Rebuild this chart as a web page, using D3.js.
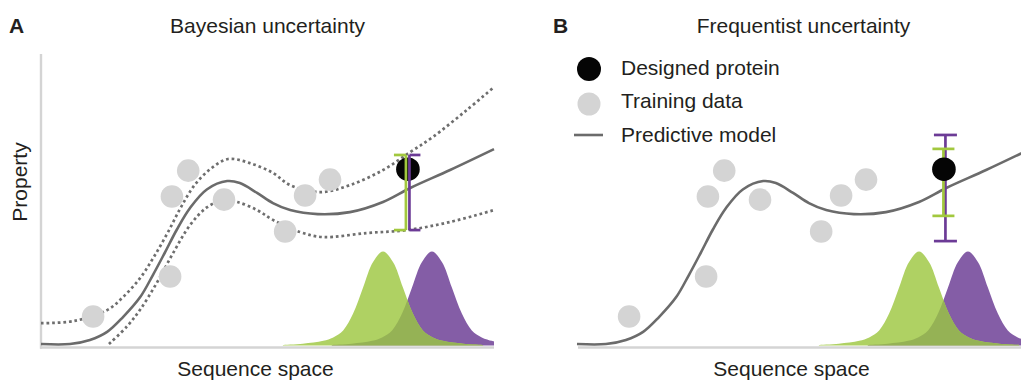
<!DOCTYPE html>
<html><head><meta charset="utf-8">
<script src="https://cdn.jsdelivr.net/npm/d3@7"></script>
<style>
body{margin:0;background:#fff;}
svg{display:block;}
text{font-family:"Liberation Sans",Arial,Helvetica,sans-serif;fill:#231f20;}
</style>
</head><body>
<svg id="c" width="1021" height="381"></svg>
<script>
// ---- data (sequence space x, property y; both 0..10) ----
const panelTitles = ["Bayesian uncertainty", "Frequentist uncertainty"];
const panelLetters = ["A", "B"];
const xLabel = "Sequence space";
const yLabel = "Property";
const legendLabels = ["Designed protein", "Training data", "Predictive model"];

const trainX = [1.15, 2.85, 2.89, 3.25, 4.04, 5.39, 5.83, 6.38];
const trainY = [1.00, 2.38, 5.14, 6.03, 5.03, 3.93, 5.17, 5.72];
const designedX = 8.10;
const designedY = 6.08;

const modelX = [0, 0.64, 1.08, 1.46, 1.81, 2.19, 2.47, 2.74, 3.00, 3.29, 3.66, 4.11, 4.39, 4.77, 5.12, 5.50, 6.11, 6.82, 7.55, 8.15, 9.03, 10.0];
const modelY = [0.05, 0.05, 0.19, 0.47, 0.98, 1.67, 2.43, 3.22, 4.00, 4.74, 5.38, 5.67, 5.60, 5.26, 4.91, 4.67, 4.53, 4.60, 4.95, 5.43, 6.05, 6.77];

const upperX = [0, 0.71, 1.46, 1.81, 2.19, 2.49, 2.80, 3.10, 3.40, 3.75, 4.13, 4.61, 5.12, 5.50, 6.16, 6.82, 7.55, 8.15, 8.65, 9.40, 10.0];
const upperY = [0.77, 0.84, 1.22, 1.67, 2.33, 3.05, 3.90, 4.80, 5.55, 6.10, 6.43, 6.29, 5.95, 5.53, 5.29, 5.53, 6.05, 6.67, 7.19, 8.12, 8.91];

const lowerX = [1.50, 1.90, 2.19, 2.56, 2.91, 3.29, 3.66, 4.02, 4.33, 4.77, 5.12, 5.72, 6.22, 7.20, 8.08, 9.03, 10.0];
const lowerY = [0.05, 0.66, 1.24, 2.17, 3.17, 4.15, 4.76, 5.02, 4.95, 4.67, 4.33, 3.91, 3.74, 3.88, 3.98, 4.26, 4.67];

const greenDistX = [5.34, 5.78, 6.23, 6.45, 6.67, 6.89, 7.11, 7.33, 7.55, 7.77, 7.99, 8.21, 8.43, 8.65, 8.87, 9.32, 9.76];
const greenDistY = [0.02, 0.06, 0.16, 0.28, 0.52, 1.10, 2.00, 2.88, 3.24, 2.88, 2.00, 1.10, 0.52, 0.28, 0.16, 0.06, 0.02];
const purpleDistX = [6.42, 6.86, 7.31, 7.53, 7.75, 7.97, 8.19, 8.41, 8.63, 8.85, 9.07, 9.29, 9.51, 9.73, 9.95, 10.0];
const purpleDistY = [0.02, 0.06, 0.16, 0.28, 0.52, 1.10, 2.00, 2.88, 3.24, 2.88, 2.00, 1.10, 0.52, 0.28, 0.16, 0.14];

// error bars [low, high]
const bayesGreenBar = [3.98, 6.57];
const bayesPurpleBar = [3.98, 6.57];
const freqGreenBar = [4.47, 6.78];
const freqPurpleBar = [3.60, 7.26];

// ---- drawing ----
const C = {
  axis: "#d4d4d4", model: "#6b6b6b", train: "#d4d4d4", designed: "#050505",
  green: "#afd163", purple: "#845da6", overlap: "#95b255",
  barGreen: "#a2c83e", barPurple: "#6c3b96"
};
const FS = 21;
const svg = d3.select("#c");
const x = d3.scaleLinear().domain([0, 10]).range([0, 453]);
const y = d3.scaleLinear().domain([0, 10]).range([345.5, 55.5]);
const zip = (a, b) => a.map((v, i) => [v, b[i]]);

const lineGen = d3.line().x(d => x(d[0])).y(d => y(d[1])).curve(d3.curveCatmullRom.alpha(0.5));
const areaGen = d3.area().x(d => x(d[0])).y0(y(0)).y1(d => y(d[1])).curve(d3.curveCatmullRom.alpha(0.5));

const panels = [
  { left: 41, bayes: true, bars: [
      { v: bayesGreenBar, color: C.barGreen, dx: -2, c0: -12, c1: 0 },
      { v: bayesPurpleBar, color: C.barPurple, dx: 1.5, c0: 0, c1: 11 }], barsOnTop: true },
  { left: 577, bayes: false, bars: [
      { v: freqPurpleBar, color: C.barPurple, dx: 1.5, c0: -11.5, c1: 11.5 },
      { v: freqGreenBar, color: C.barGreen, dx: -0.5, c0: -11, c1: 11 }], barsOnTop: false }
];

const defs = svg.append("defs");

panels.forEach((p, pi) => {
  const g = svg.append("g").attr("transform", `translate(${p.left},0)`);

  // axes
  if (pi === 0) {
    g.append("line").attr("x1", 0).attr("x2", 0).attr("y1", 54).attr("y2", 348.7)
      .attr("stroke", C.axis).attr("stroke-width", 2.4);
  }
  g.append("line").attr("x1", pi === 0 ? -1 : 1).attr("x2", x(10) + (pi === 0 ? 0 : 20))
    .attr("y1", 347.5).attr("y2", 347.5).attr("stroke", C.axis).attr("stroke-width", 2.4);

  // distributions
  const purplePts = zip(purpleDistX, purpleDistY);
  const greenPts = zip(greenDistX, greenDistY);
  const cid = "clipP" + pi;
  defs.append("clipPath").attr("id", cid)
    .append("path").attr("d", areaGen(purplePts));
  g.append("path").attr("d", areaGen(purplePts)).attr("fill", C.purple);
  g.append("path").attr("d", areaGen(greenPts)).attr("fill", C.green);
  g.append("g").attr("clip-path", `url(#${cid})`)
    .append("path").attr("d", areaGen(greenPts)).attr("fill", C.overlap);

  // bands
  if (p.bayes) {
    [zip(upperX, upperY), zip(lowerX, lowerY)].forEach(pts => {
      g.append("path").attr("d", lineGen(pts)).attr("fill", "none")
        .attr("stroke", "#6e6e6e").attr("stroke-width", 2.7)
        .attr("stroke-dasharray", "2.7 2.9");
    });
  }
  // model
  g.append("path").attr("d", lineGen(zip(modelX, modelY))).attr("fill", "none")
    .attr("stroke", C.model).attr("stroke-width", 2.6);

  // training points
  g.selectAll("circle.t").data(zip(trainX, trainY)).enter().append("circle")
    .attr("cx", d => x(d[0])).attr("cy", d => y(d[1])).attr("r", 11.3).attr("fill", C.train);

  const drawBars = () => {
    p.bars.forEach(b => {
      const bx = x(designedX) + b.dx;
      const gb = g.append("g").attr("stroke", b.color).attr("stroke-width", 2.7).attr("fill", "none");
      gb.append("line").attr("x1", bx).attr("x2", bx).attr("y1", y(b.v[0])).attr("y2", y(b.v[1]));
      b.v.forEach(v => gb.append("line").attr("x1", bx + b.c0).attr("x2", bx + b.c1)
        .attr("y1", y(v)).attr("y2", y(v)));
    });
  };
  const drawDesigned = () => g.append("circle").attr("cx", x(designedX)).attr("cy", y(designedY))
    .attr("r", 11.8).attr("fill", C.designed);
  if (p.barsOnTop) { drawDesigned(); drawBars(); } else { drawBars(); drawDesigned(); }

  // titles
  g.append("text").attr("x", x(5)).attr("y", 33).attr("text-anchor", "middle")
    .attr("font-size", FS).text(panelTitles[pi]);
  g.append("text").attr("x", pi === 0 ? -32 : -24).attr("y", 33).attr("font-size", FS)
    .attr("font-weight", "bold").text(panelLetters[pi]);
  g.append("text").attr("x", x(5) - 12).attr("y", 376).attr("text-anchor", "middle")
    .attr("font-size", FS).text(xLabel);
  if (pi === 0) {
    g.append("text").attr("transform", "translate(-14,182) rotate(-90)")
      .attr("text-anchor", "middle").attr("font-size", FS).text(yLabel);
  }
});

// legend (panel B)
const lg = svg.append("g").attr("transform", "translate(589,0)");
lg.append("circle").attr("cx", 0).attr("cy", 69).attr("r", 12).attr("fill", C.designed);
lg.append("circle").attr("cx", 0).attr("cy", 104).attr("r", 11.5).attr("fill", C.train);
lg.append("line").attr("x1", -15).attr("x2", 14).attr("y1", 135).attr("y2", 135)
  .attr("stroke", C.model).attr("stroke-width", 2.6);
[75, 108, 142].forEach((yy, i) => lg.append("text").attr("x", 32).attr("y", yy)
  .attr("font-size", FS).text(legendLabels[i]));
</script>
</body></html>
